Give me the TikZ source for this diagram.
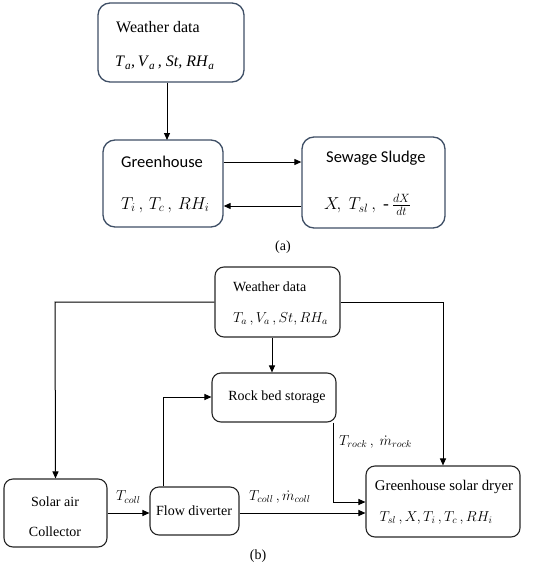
\documentclass[tikz,border=0pt]{standalone}
\usepackage{fontspec}
\setmainfont{Liberation Serif}
\newfontfamily\calib{Carlito}
\usetikzlibrary{arrows.meta}
\definecolor{slate}{HTML}{3F4F66}
\tikzset{
  abox/.style={draw=slate, line width=1.3pt, rounded corners=12pt, inner sep=0pt},
  bbox/.style={draw=black!85, line width=1.1pt, rounded corners=9pt, inner sep=0pt},
  conn/.style={line width=1pt, -{Triangle[length=7pt,width=6pt]}},
  lbl/.style={inner sep=0pt, font=\fontsize{14}{16}\selectfont},
  albl/.style={inner sep=0pt, anchor=west, font=\fontsize{16}{18}\selectfont},
  mlbl/.style={inner sep=0pt, anchor=west, font=\fontsize{17.5}{19}\selectfont},
}
\begin{document}
\begin{tikzpicture}[x=1pt,y=-1pt]
\useasboundingbox (0,0) rectangle (550,571);
% ---------- (a)
\node[abox, minimum width=146pt, minimum height=79pt] (wa) at (171,42.5) {};
\node[albl] (wat) at (116,27) {Weather data};
\node[albl] (wam) at (115,63) {\textit{T}\textsubscript{\textit{a}}\textit{,\,V}\textsubscript{\textit{a}}\,\textit{, St, RH}\textsubscript{\textit{a}}};
\node[abox, minimum width=120pt, minimum height=87pt] (gh) at (163,183.5) {};
\node[albl, font=\calib\fontsize{16.5}{18}\selectfont] (ght) at (121,162) {Greenhouse};
\node[mlbl] (ghm) at (121,205) {$T_i\,,\,T_c\,,\,RH_i$};
\node[abox, minimum width=143pt, minimum height=91pt] (ss) at (373.5,182.5) {};
\node[albl, font=\calib\fontsize{16.5}{18}\selectfont] (sst) at (326,158) {Sewage Sludge};
\node[mlbl] (ssm) at (324,205) {$X\!,\ T_{sl}\,,\ \mbox{-}\,\frac{dX}{dt}$};
\coordinate (gtop) at (167,140);
\draw[conn] (wa.south -| gtop) -- (gtop);
\draw[conn] (gh.east |- 0,162) -- (ss.west |- 0,162);
\draw[conn] (ss.west |- 0,206) -- (gh.east |- 0,206);
\node[lbl] (capa) at (283,247) {(a)};
% ---------- (b)
\node[bbox, minimum width=125pt, minimum height=70pt] (wb) at (277.5,302) {};
\node[lbl, anchor=west] (wbt) at (233,287) {Weather data};
\node[lbl, anchor=west] (wbm) at (233,319) {$T_a\,,V_a\,,St,RH_a$};
\node[bbox, minimum width=124pt, minimum height=49pt] (rk) at (274,397.5) {};
\node[lbl] (rkt) at (277,397) {Rock bed storage};
\node[bbox, minimum width=89pt, minimum height=48pt] (fd) at (194.5,511) {};
\node[lbl] (fdt) at (194,510.5) {Flow diverter};
\node[bbox, minimum width=103pt, minimum height=68pt] (sc) at (55.5,513) {};
\node[lbl] (sct1) at (55,502) {Solar air};
\node[lbl] (sct2) at (55,532) {Collector};
\node[bbox, minimum width=154pt, minimum height=71pt] (dr) at (443,501.5) {};
\node[lbl, font=\fontsize{14.8}{16}\selectfont] (drt) at (444,487) {Greenhouse solar dryer};
\node[lbl] (drm) at (436,518) {$T_{sl}\,,X,T_i\,,T_c\,,RH_i$};
\coordinate (lcol) at (55,302);
\coordinate (rcol) at (443,302);
\coordinate (fdup) at (163,397);
\coordinate (rkdn) at (333,502);
\draw[conn] (wb.west) -- (lcol) -- (sc.north);
\draw[conn] (wb.east) -- (rcol) -- (dr.north);
\draw[conn] (wb.south -| 272,0) -- (rk.north -| 272,0);
\draw[conn] (fd.north -| fdup) -- (fdup) -- (rk.west |- fdup);
\draw[conn] (rk.south -| rkdn) -- (rkdn) -- (dr.west |- rkdn);
\draw[conn] (sc.east |- 0,513) -- (fd.west |- 0,513);
\draw[conn] (fd.east |- 0,513) -- (dr.west |- 0,513);
\node[lbl, anchor=west] (l1) at (116,497) {$T_{coll}$};
\node[lbl, anchor=west] (l2) at (249,497) {$T_{coll}\,,\dot m_{coll}$};
\node[lbl, anchor=west] (l3) at (339,442) {$T_{rock}\,,\ \dot m_{rock}$};
\node[lbl] (capb) at (258,556) {(b)};
\end{tikzpicture}
\end{document}
